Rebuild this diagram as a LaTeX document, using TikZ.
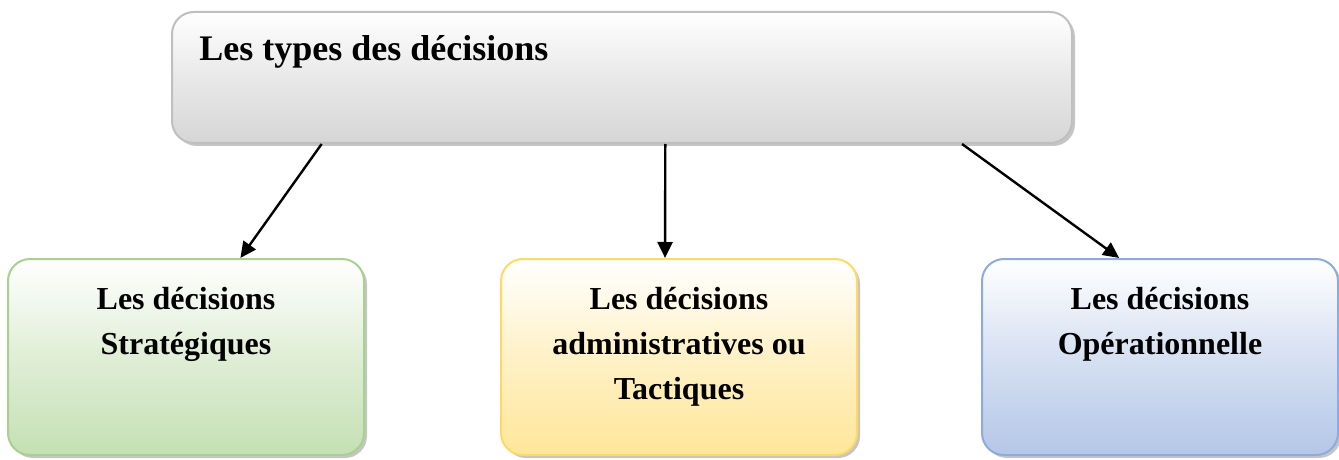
\documentclass[tikz,border=0pt]{standalone}
\usepackage{fontspec}
\setmainfont{Liberation Serif}
\usetikzlibrary{positioning,calc,shadows,arrows.meta}

\definecolor{grayline}{HTML}{BFBFBF}
\definecolor{grayfill}{HTML}{D6D6D6}
\definecolor{greenline}{HTML}{A9D18E}
\definecolor{greenfill}{HTML}{C5E0B4}
\definecolor{yellowline}{HTML}{FFD966}
\definecolor{yellowfill}{HTML}{FFE699}
\definecolor{blueline}{HTML}{8FAADC}
\definecolor{bluefill}{HTML}{B4C7E7}

\tikzset{
	box/.style 2 args={draw=#1, line width=1pt, rounded corners=11pt, top color=white, bottom color=#2, middle color=#2!55!white, drop shadow={shadow xshift=1.5pt, shadow yshift=-1.5pt, fill=black!45, opacity=0.5}, inner sep=0pt},
	decision/.style={minimum width=178pt, minimum height=98pt},
	lbl/.style={font=\bfseries\fontsize{16}{22.5}\selectfont, align=center, inner sep=0pt},
	title/.style={font=\bfseries\fontsize{18}{22}\selectfont, inner sep=0pt},
	arr/.style={-{Triangle[length=8pt, width=7.5pt]}, line width=1.2pt}
}

\begin{document}
\begin{tikzpicture}[x=0.5pt, y=-0.5pt]
		\useasboundingbox (0, 0) rectangle (1339, 460);

		\node[box={grayline}{grayfill}, minimum width=450pt, minimum height=65.5pt] (types) at (622, 77.5) {};
		\node[box={greenline}{greenfill}, decision] (strat) at (186, 357) {};
		\node[box={yellowline}{yellowfill}, decision] (admin) at (679, 357) {};
		\node[box={blueline}{bluefill}, decision] (oper) at (1160, 357) {};

		\node[title, anchor=base west] (typeslbl) at ($(types.north west)+(28, 50)$) {Les types des décisions};
		\node[lbl, below=14.5pt of strat.north] (stratlbl) {Les décisions\\Stratégiques};
		\node[lbl, below=14.5pt of admin.north] (adminlbl) {Les décisions\\administratives ou\\Tactiques};
		\node[lbl, below=14.5pt of oper.north] (operlbl) {Les décisions\\Opérationnelle};

		\draw[arr] ($(types.south west)!0.167!(types.south east)$) -- ($(strat.north west)!0.652!(strat.north east)$);
		\draw[arr] ($(types.south west)!0.548!(types.south east)$) -- ($(admin.north west)!0.461!(admin.north east)$);
		\draw[arr] ($(types.south west)!0.877!(types.south east)$) -- ($(oper.north west)!0.386!(oper.north east)$);
	\end{tikzpicture}
\end{document}
